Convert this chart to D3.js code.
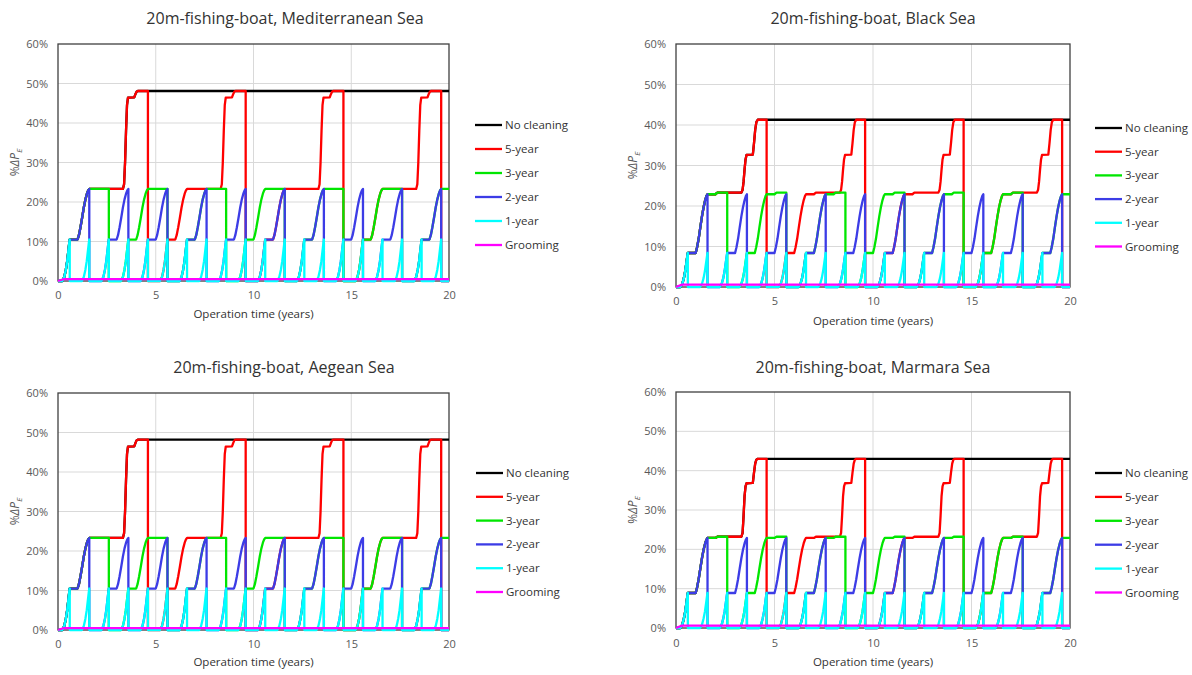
<!DOCTYPE html>
<html>
<head>
<meta charset="utf-8">
<script src="https://cdn.jsdelivr.net/npm/d3@7"></script>
<style>
	body { margin: 0; background: #fff; }
	svg { display: block; font-family: "Open Sans", sans-serif; }
</style>
</head>
<body>
<svg width="1192" height="675"></svg>
<script>
'use strict';

// chart titles, one per sea
var titles = ["20m-fishing-boat, Mediterranean Sea", "20m-fishing-boat, Black Sea",
	"20m-fishing-boat, Aegean Sea", "20m-fishing-boat, Marmara Sea"];

// legend entries, in drawing order
var seriesNames = ["No cleaning", "5-year", "3-year", "2-year", "1-year", "Grooming"];

// axis ticks
var xTicks = [0, 5, 10, 15, 20];
var yTicks = [0, 10, 20, 30, 40, 50, 60];

// years at which each schedule cleans the hull
var cleanNone = [];
var cleanFiveYear = [4.6, 9.6, 14.6, 19.6];
var cleanThreeYear = [2.6, 5.6, 8.6, 11.6, 14.6, 17.6];
var cleanTwoYear = [1.6, 3.6, 5.6, 7.6, 9.6, 11.6, 13.6, 15.6, 17.6, 19.6];
var cleanOneYear = [0.6, 1.6, 2.6, 3.6, 4.6, 5.6, 6.6, 7.6, 8.6, 9.6,
	10.6, 11.6, 12.6, 13.6, 14.6, 15.6, 16.6, 17.6, 18.6, 19.6];

// the boat starts operating this far into its first fouling cycle (years)
var firstCycleAge = 0.4;

// fouling curve after a cleaning: years since cleaning ...
var cycleAge = [0, 0.62, 0.72, 0.80, 0.87, 0.93, 0.98, 1.0, 1.40, 1.47, 1.55, 1.63, 1.72, 1.80, 1.88, 1.95, 2.0,
	2.4, 2.5, 3.72, 3.78, 3.83, 3.88, 3.93, 3.98, 4.30, 4.36, 4.42, 4.48, 4.55, 30];
// ... and %dPe reached at that age, per sea
var medValues = [0, 0, 1.0, 2.8, 5.0, 7.6, 9.8, 10.5, 10.5, 11.6, 13.6, 15.9, 18.6, 20.6, 22.1, 23.0, 23.3,
	23.3, 23.3, 23.3, 24.5, 30.0, 38.0, 44.5, 46.4, 46.5, 47.3, 47.9, 48.1, 48.1, 48.1];
var blackValues = [0, 0, 0.8, 2.2, 4.0, 6.1, 7.8, 8.4, 8.4, 9.8, 11.9, 14.6, 17.5, 19.7, 21.4, 22.5, 22.9,
	22.9, 23.3, 23.3, 24.0, 26.0, 29.0, 31.5, 32.6, 32.7, 35.5, 38.8, 40.7, 41.3, 41.3];
var aegeanValues = [0, 0, 1.0, 2.8, 5.0, 7.6, 9.8, 10.5, 10.5, 11.6, 13.6, 15.9, 18.6, 20.6, 22.1, 23.0, 23.3,
	23.3, 23.3, 23.3, 24.5, 30.0, 38.0, 44.5, 46.4, 46.5, 47.3, 48.0, 48.2, 48.2, 48.2];
var marmaraValues = [0, 0, 0.85, 2.4, 4.2, 6.4, 8.3, 8.9, 8.9, 10.3, 12.4, 15.0, 17.8, 19.9, 21.5, 22.5, 22.9,
	22.9, 23.2, 23.2, 24.2, 28.5, 33.5, 36.0, 36.8, 36.9, 39.5, 41.8, 42.8, 43.0, 43.0];

// grooming stays almost clean
var groomingTimes = [0, 0.3, 20];
var groomingMed = [0, 0.5, 0.5];
var groomingBlack = [0, 0.6, 0.6];
var groomingAegean = [0, 0.5, 0.5];
var groomingMarmara = [0, 0.6, 0.6];

document.addEventListener('DOMContentLoaded', function() {

	var svg = d3.select("svg");
	var colors = ["#000000", "#ff0000", "#00e600", "#3c3ce6", "#00ffff", "#ff00ff"];
	var schedules = [cleanNone, cleanFiveYear, cleanThreeYear, cleanTwoYear, cleanOneYear];

	// layout of the four panels
	var panels = [
		{title: titles[0], values: medValues, grooming: groomingMed, left: 58, top: 44, right: 449, bottom: 281,
			titleX: 285, titleY: 18, tickY: 297, axisTitleY: 314, legendX: 475, legendY: 125, legendStep: 24},
		{title: titles[1], values: blackValues, grooming: groomingBlack, left: 676, top: 44, right: 1070, bottom: 287,
			titleX: 873, titleY: 18, tickY: 303, axisTitleY: 321, legendX: 1095, legendY: 128, legendStep: 23.7},
		{title: titles[2], values: aegeanValues, grooming: groomingAegean, left: 58, top: 393, right: 449, bottom: 630,
			titleX: 284, titleY: 367, tickY: 646, axisTitleY: 662, legendX: 476, legendY: 473, legendStep: 23.8},
		{title: titles[3], values: marmaraValues, grooming: groomingMarmara, left: 676, top: 392, right: 1070, bottom: 628,
			titleX: 873, titleY: 367, tickY: 645, axisTitleY: 662, legendX: 1095, legendY: 473, legendStep: 23.9}
	];

	// value of the fouling curve at a given age
	function valueAt(values, age) {
		for (var j = 0; j < cycleAge.length - 1; j++) {
			if (age <= cycleAge[j + 1]) {
				var f = (age - cycleAge[j]) / (cycleAge[j + 1] - cycleAge[j]);
				return values[j] + f * (values[j + 1] - values[j]);
			}
		}
		return values[values.length - 1];
	}

	// stitch the fouling curve between the cleanings of one schedule
	function buildSeries(cleanings, values) {
		var starts = [-firstCycleAge].concat(cleanings);
		var points = [];
		starts.forEach(function(c, i) {
			var end = i + 1 < starts.length ? starts[i + 1] : 20;
			var from = Math.max(c, 0);
			points.push([from, valueAt(values, from - c)]);
			cycleAge.forEach(function(a, j) {
				if (c + a > from && c + a < end) points.push([c + a, values[j]]);
			});
			points.push([end, valueAt(values, end - c)]);
		});
		return points;
	}

	panels.forEach(function(p) {
		var x = d3.scaleLinear().domain([0, 20]).range([p.left, p.right]);
		var y = d3.scaleLinear().domain([0, 60]).range([p.bottom, p.top]);
		var g = svg.append("g");

		// title
		g.append("text")
			.attr("x", p.titleX)
			.attr("y", p.titleY)
			.attr("dy", "0.35em")
			.attr("text-anchor", "middle")
			.attr("fill", "#333")
			.style("font-size", "16px")
			.text(p.title);

		// gridlines
		g.selectAll(".hgrid")
			.data(yTicks.slice(1, -1))
			.enter().append("line")
				.attr("x1", p.left).attr("x2", p.right)
				.attr("y1", function(d) { return y(d); })
				.attr("y2", function(d) { return y(d); })
				.attr("stroke", "#d9d9d9");
		g.selectAll(".vgrid")
			.data(xTicks.slice(1, -1))
			.enter().append("line")
				.attr("y1", p.top).attr("y2", p.bottom)
				.attr("x1", function(d) { return x(d); })
				.attr("x2", function(d) { return x(d); })
				.attr("stroke", "#d9d9d9");

		// plot frame
		g.append("rect")
			.attr("x", p.left).attr("y", p.top)
			.attr("width", p.right - p.left).attr("height", p.bottom - p.top)
			.attr("fill", "none")
			.attr("stroke", "#404040")
			.attr("stroke-width", 1.3);

		// axes
		var xAxis = g.append("g")
			.attr("transform", "translate(0," + (p.tickY - 6) + ")")
			.call(d3.axisBottom(x).tickValues(xTicks).tickSize(0).tickPadding(0));
		var yAxis = g.append("g")
			.attr("transform", "translate(" + (p.left - 10) + ",0)")
			.call(d3.axisLeft(y).tickValues(yTicks).tickSize(0).tickPadding(0)
				.tickFormat(function(d) { return d + "%"; }));
		[xAxis, yAxis].forEach(function(a) {
			a.select(".domain").remove();
			a.attr("font-family", null).attr("font-size", null);
			a.selectAll("text").attr("fill", "#595959").style("font-size", "11px");
		});

		// axis titles
		g.append("text")
			.attr("x", (p.left + p.right) / 2)
			.attr("y", p.axisTitleY)
			.attr("dy", "0.35em")
			.attr("text-anchor", "middle")
			.attr("fill", "#333")
			.style("font-size", "11.5px")
			.text("Operation time (years)");
		var yTitle = g.append("text")
			.attr("transform", "translate(" + (p.left - 43) + "," + ((p.top + p.bottom) / 2) + ") rotate(-90)")
			.attr("dy", "0.35em")
			.attr("text-anchor", "middle")
			.attr("fill", "#595959")
			.style("font-size", "12px");
		yTitle.append("tspan").text("%");
		yTitle.append("tspan").style("font-style", "italic").text("ΔP");
		yTitle.append("tspan").style("font-style", "italic").style("font-size", "8px")
			.attr("dy", "3").text("E");

		// series lines
		var line = d3.line()
			.x(function(d) { return x(d[0]); })
			.y(function(d) { return y(d[1]); });
		var seriesData = schedules.map(function(s) { return buildSeries(s, p.values); });
		seriesData.push(groomingTimes.map(function(t, i) { return [t, p.grooming[i]]; }));

		g.selectAll(".series")
			.data(seriesData)
			.enter().append("path")
				.attr("d", line)
				.attr("fill", "none")
				.attr("stroke", function(d, i) { return colors[i]; })
				.attr("stroke-width", 2.3)
				.attr("stroke-linejoin", "round");

		// legend
		var legend = g.selectAll(".legend")
			.data(seriesNames)
			.enter().append("g")
				.attr("transform", function(d, i) { return "translate(" + p.legendX + "," + (p.legendY + i * p.legendStep) + ")"; });
		legend.append("line")
			.attr("x1", 0).attr("x2", 27)
			.attr("stroke", function(d, i) { return colors[i]; })
			.attr("stroke-width", 2.3);
		legend.append("text")
			.attr("x", 30)
			.attr("dy", "0.35em")
			.attr("fill", "#333")
			.style("font-size", "11.5px")
			.text(function(d) { return d; });
	});

});
</script>
</body>
</html>
